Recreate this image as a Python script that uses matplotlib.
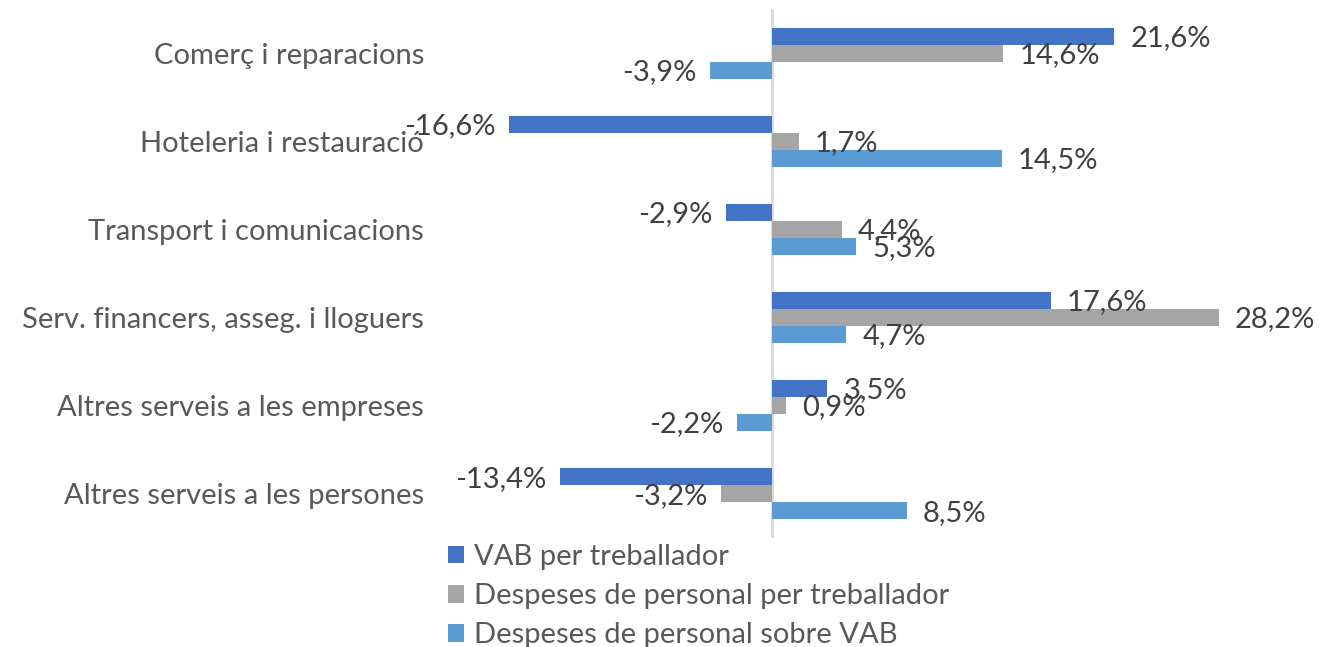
import numpy as np
import matplotlib.pyplot as plt

plt.rcParams['font.family'] = ['Lato', 'DejaVu Sans']

sectors = ["Comerç i reparacions", "Hoteleria i restauració", "Transport i comunicacions",
           "Serv. financers, asseg. i lloguers", "Altres serveis a les empreses",
           "Altres serveis a les persones"]
vab = [21.6, -16.6, -2.9, 17.6, 3.5, -13.4]
despeses = [14.6, 1.7, 4.4, 28.2, 0.9, -3.2]
despeses_vab = [-3.9, 14.5, 5.3, 4.7, -2.2, 8.5]

series_names = ["VAB per treballador", "Despeses de personal per treballador",
                "Despeses de personal sobre VAB"]
colors = ["#4472C4", "#A5A5A5", "#5B9BD5"]
text_col = "#595959"
fs = 21

fig = plt.figure(figsize=(13.37, 6.47), dpi=100)
ax = fig.add_axes([435 / 1337, 1 - 538 / 647, (1320 - 435) / 1337, (538 - 9) / 647])

y = np.arange(len(sectors))
h = 0.193
px = 15.85  # pixels per percentage point
ax.set_xlim(-(772 - 435) / px, (1320 - 772) / px)
ax.set_ylim(len(sectors) - 0.5, -0.5)

for k, (vals, name, c) in enumerate(zip([vab, despeses, despeses_vab], series_names, colors)):
    ypos = y + (k - 1) * h
    ax.barh(ypos, vals, height=h, color=c, label=name)
    for yy, v in zip(ypos, vals):
        lab = f"{v:.1f}%".replace(".", ",")
        off = 16 / px
        if v >= 0:
            ax.text(v + off, yy + 0.02, lab, ha='left', va='center', fontsize=fs, color="#404040")
        else:
            ax.text(v - off * 0.85, yy + 0.02, lab, ha='right', va='center', fontsize=fs, color="#404040")

ax.axvline(0, color="#D9D9D9", lw=2, zorder=0)
ax.set_yticks(y)
ax.set_yticklabels(sectors, fontsize=fs, color=text_col)
ax.tick_params(axis='y', length=0, pad=8)
ax.set_xticks([])
for s in ax.spines.values():
    s.set_visible(False)

leg = fig.legend(loc='upper left', bbox_to_anchor=(448 / 1337, 1 - 544 / 647), frameon=False,
                 fontsize=fs, handlelength=0.55, handleheight=0.55, handletextpad=0.35,
                 labelspacing=0.45, borderaxespad=0, borderpad=0)
for t in leg.get_texts():
    t.set_color(text_col)

fig.savefig("out.png", dpi=100)
